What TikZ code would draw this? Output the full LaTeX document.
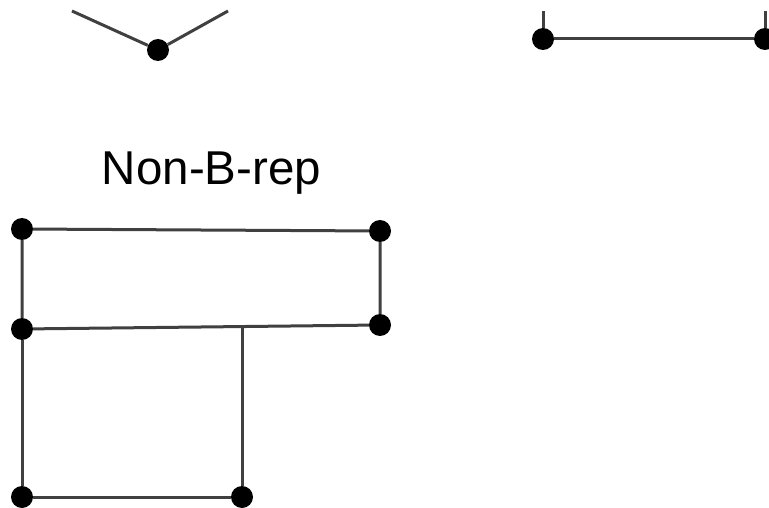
\documentclass[tikz,border=0pt]{standalone}
\usepackage{fontspec}
\setmainfont{Liberation Sans}
\begin{document}
\begin{tikzpicture}[x=1pt,y=-1pt,
  dot/.style={circle,fill=black,inner sep=0pt,minimum size=22pt},
  edge/.style={draw=black!75,line width=3pt},
  lbl/.style={font=\fontsize{47.5}{56}\selectfont,anchor=base,inner sep=0pt}]
\useasboundingbox[fill=white] (0,0) rectangle (769,508);
% top-left V
\node[dot] (v) at (158,50) {};
\coordinate (vl) at (72,11);
\coordinate (vr) at (228,11);
\draw[edge] (vl) -- (v) -- (vr);
% top-right segment
\node[dot] (p) at (543,39) {};
\node[dot] (q) at (765,39) {};
\coordinate (pt) at (543,11);
\coordinate (qt) at (765,11);
\draw[edge] (pt) -- (p) -- (q) -- (qt);
% label
\node[lbl] (t) at (211.5,185) {Non-B-rep};
% non-B-rep figure
\node[dot] (a) at (22,229) {};
\node[dot] (b) at (380,231) {};
\node[dot] (c) at (380,325) {};
\node[dot] (d) at (22,329) {};
\node[dot] (e) at (22,497) {};
\node[dot] (f) at (242,497) {};
\coordinate (m) at (242,327.5);
\draw[edge] (a) -- (b) -- (c) -- (d) -- (a);
\draw[edge] (d) -- (e) -- (f) -- (m);
\end{tikzpicture}
\end{document}
